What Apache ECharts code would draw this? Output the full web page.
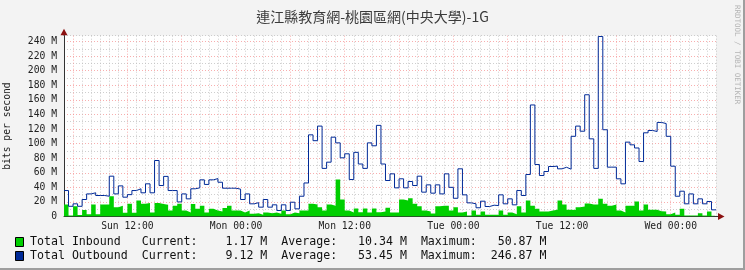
<!DOCTYPE html>
<html><head><meta charset="utf-8">
<script src="https://cdn.jsdelivr.net/npm/echarts@6/dist/echarts.min.js"></script>
<style>html,body{margin:0;padding:0;background:#f3f3f3}#c{width:745px;height:270px}</style>
</head><body><div id="c"></div>
<script>
// ---- data ----
const titleText = '連江縣教育網-桃園區網(中央大學)-1G';
const startHour = 5;      // hours from Sun 00:00
const stepHours = 0.5;    // 30-minute samples
const inbound = [
  16.5, 1.5, 14, 2, 9, 3, 16.5, 3, 16.5, 16.5,
  27.8, 12.8, 14.6, 5, 17.4, 5, 22, 17.4, 18.5, 5.5,
  18.5, 17, 16, 8.2, 14.6, 17.4, 8.2, 5.6, 17, 10.5,
  14.6, 5.6, 10.5, 8.2, 7, 11.7, 14.6, 8.2, 8.2, 5.6,
  8.2, 3.7, 4.6, 2.4, 5.6, 4.6, 5.6, 3.7, 8.2, 3,
  5.6, 4.6, 8.2, 8.2, 17.4, 16.5, 12.8, 8.2, 16.5, 14.6,
  50.87, 23.3, 8.2, 5.6, 11, 6, 11, 5.6, 11, 6,
  7, 12, 5.6, 5.6, 23.3, 22, 25, 17.4, 14, 8.2,
  7, 4, 14, 14.6, 14.6, 8.2, 12.8, 5.6, 7, 1.5,
  8.2, 2.4, 7, 2.5, 2.5, 2.5, 8.2, 2.5, 5.6, 3,
  14, 5.6, 22, 14.6, 10.5, 7, 7, 8.2, 9.1, 22,
  16.5, 9.4, 9, 12.8, 13.7, 17.8, 16.5, 16.5, 24.2, 17.4,
  14.6, 16.5, 8.2, 5.6, 14.6, 14.6, 20.6, 8.2, 16.5, 9.4,
  9.4, 7.3, 7, 3, 5.6, 2.4, 10.5, 1.5, 1.5, 1.5,
  4.6, 1.5, 7, 1.17
];
const outbound = [
  35.6, 14, 17.4, 14, 23.3, 31, 32.5, 28.8, 28.8, 27.8,
  55.3, 31, 42, 26.5, 30, 35.6, 38, 32.5, 44.8, 32.5,
  76.8, 42.5, 55, 35.6, 35.6, 20, 31, 24.2, 38, 39.3,
  50.3, 44, 50.3, 52, 47, 38.8, 38.8, 38.8, 37.5, 23.3,
  31, 17.4, 19, 12.8, 23.3, 12.8, 16, 8.2, 16, 8.2,
  19.6, 10.5, 27.8, 46, 112, 104, 124, 66, 74.5, 108.8,
  101, 80.5, 86, 50.7, 88, 72, 66, 101, 97, 125,
  72, 49.4, 58.5, 39.3, 51.7, 39.3, 48, 42.5, 55.3, 33.4,
  43.4, 32, 43.4, 31, 58.5, 40, 25, 65.4, 29.7, 18.7,
  17.4, 12, 21, 13.7, 15.5, 15, 29.7, 17.4, 24.2, 16,
  35.6, 28.8, 57.6, 153, 71.3, 56.2, 61.7, 68.6, 69, 65.4,
  67.5, 64.9, 110, 124, 117, 167, 106.5, 66, 246.87, 119,
  67.7, 67.7, 51.7, 44.8, 102, 98.3, 94, 75.4, 114.8, 118,
  116.6, 129, 127.5, 110, 69, 27.8, 34.7, 17.4, 31, 17.4,
  24.2, 17.4, 20.6, 9.12
];
const xTickHours = [12, 24, 36, 48, 60, 72];
const xTickLabels = ['Sun 12:00', 'Mon 00:00', 'Mon 12:00', 'Tue 00:00', 'Tue 12:00', 'Wed 00:00'];
const yTickValues = [0, 20, 40, 60, 80, 100, 120, 140, 160, 180, 200, 220, 240];
const yTickLabels = ['0', '20 M', '40 M', '60 M', '80 M', '100 M', '120 M', '140 M', '160 M', '180 M', '200 M', '220 M', '240 M'];
const seriesNames = ['Total Inbound', 'Total Outbound'];
const seriesColors = ['#00cf00', '#002a97'];
const statCurrent = ['1.17 M', '9.12 M'];
const statAverage = ['10.34 M', '53.45 M'];
const statMaximum = ['50.87 M', '246.87 M'];

// ---- chart ----
const X_MIN = 5, X_MAX = 77, Y_MAX = 248;
function steps(vals) {
  const d = vals.map((v, i) => [startHour + i * stepHours, v]);
  d.push([startHour + vals.length * stepHours, vals[vals.length - 1]]);
  return d;
}
const MONO = '"DejaVu Sans Mono", monospace';
const red = 'rgba(245,140,140,0.7)';
const gry = 'rgba(190,190,190,0.75)';
const xGridColors = [gry, red, gry, gry, gry, gry];
const yGridColors = [red, gry];

const chart = echarts.init(document.getElementById('c'), null, {renderer: 'canvas', width: 745, height: 270});
const option = {
  animation: false,
  backgroundColor: '#f3f3f3',
  title: {
    text: titleText, left: 'center', top: 5,
    textStyle: {fontFamily: '"Noto Sans CJK TC"', fontSize: 14, fontWeight: 'normal', color: '#3a3a3a'}
  },
  grid: {left: 64, right: 29, top: 35.7, bottom: 53.5, show: true, backgroundColor: '#ffffff', borderWidth: 0, outerBoundsMode: 'none', containLabel: false},
  xAxis: {
    type: 'value', min: X_MIN, max: X_MAX, interval: 1,
    axisLine: {show: true, onZero: false, lineStyle: {color: '#333', width: 1}},
    axisTick: {show: false},
    axisLabel: {
      show: true, interval: 0, hideOverlap: false, showMinLabel: true, showMaxLabel: true,
      formatter: v => { const i = xTickHours.indexOf(v); return i >= 0 ? xTickLabels[i] : ''; },
      fontFamily: MONO, fontSize: 9.7, color: '#222', margin: 5
    },
    splitLine: {show: true, lineStyle: {color: xGridColors, type: [1, 2], width: 1}}
  },
  yAxis: {
    type: 'value', min: 0, max: Y_MAX, interval: 10,
    name: 'bits per second', nameLocation: 'middle', nameGap: 52, nameRotate: 90,
    nameTextStyle: {fontFamily: MONO, fontSize: 9.7, color: '#222'},
    axisLine: {show: true, lineStyle: {color: '#333', width: 1}},
    axisTick: {show: false},
    axisLabel: {
      show: true, showMaxLabel: true, showMinLabel: true,
      formatter: v => { const i = yTickValues.indexOf(v); return i >= 0 ? yTickLabels[i] : ''; },
      fontFamily: MONO, fontSize: 9.7, color: '#222', margin: 7
    },
    splitLine: {show: true, lineStyle: {color: yGridColors, type: [1, 2], width: 1}}
  },
  series: [
    {name: seriesNames[0], type: 'line', step: 'end', data: steps(inbound), symbol: 'none',
     lineStyle: {width: 0}, areaStyle: {color: seriesColors[0], opacity: 1}, itemStyle: {color: seriesColors[0]}, z: 2, silent: true},
    {name: seriesNames[1], type: 'line', step: 'end', data: steps(outbound), symbol: 'none',
     lineStyle: {width: 1, color: seriesColors[1]}, itemStyle: {color: seriesColors[1]}, z: 3, silent: true}
  ]
};
chart.setOption(option);

// decorations: arrows, legend, watermark, frame
const tl = chart.convertToPixel({gridIndex: 0}, [X_MIN, Y_MAX]);
const br = chart.convertToPixel({gridIndex: 0}, [X_MAX, 0]);
const arrowColor = '#8b1010';
const pad = (s, n, left) => left ? s.padStart(n) : s.padEnd(n);
const graphics = [
  {type: 'rect', shape: {x: 743, y: 0, width: 2, height: 270}, style: {fill: '#9e9e9e'}, silent: true},
  {type: 'rect', shape: {x: 0, y: 268, width: 745, height: 2}, style: {fill: '#9e9e9e'}, silent: true},
  {type: 'line', shape: {x1: tl[0], y1: tl[1], x2: tl[0], y2: tl[1] - 1}, style: {stroke: '#333', lineWidth: 1}, silent: true},
  {type: 'line', shape: {x1: br[0], y1: br[1], x2: br[0] + 3, y2: br[1]}, style: {stroke: '#333', lineWidth: 1}, silent: true},
  {type: 'polygon', shape: {points: [[tl[0] - 3.5, tl[1] - 0.5], [tl[0] + 3.5, tl[1] - 0.5], [tl[0], tl[1] - 7]]}, style: {fill: arrowColor}, silent: true},
  {type: 'polygon', shape: {points: [[br[0] + 2, br[1] - 3.5], [br[0] + 2, br[1] + 3.5], [br[0] + 8.5, br[1]]]}, style: {fill: arrowColor}, silent: true},
  {type: 'text', x: 737, y: 5, rotation: -Math.PI / 2,
   style: {text: 'RRDTOOL / TOBI OETIKER', fontFamily: MONO, fontSize: 7.5, fill: '#b4b4b4', align: 'left', verticalAlign: 'middle'}, silent: true}
];
for (let r = 0; r < 2; r++) {
  const y = 242 + 14 * r;
  const line = pad(seriesNames[r], 16) + 'Current:' + pad(statCurrent[r], 10, true) +
               '  Average:' + pad(statAverage[r], 10, true) + '  Maximum:' + pad(statMaximum[r], 10, true);
  graphics.push({type: 'rect', shape: {x: 15.5, y: y - 4.5, width: 8, height: 9}, style: {fill: seriesColors[r], stroke: '#000', lineWidth: 1}, silent: true});
  graphics.push({type: 'text', x: 30, y: y, style: {text: line, fontFamily: MONO, fontSize: 11.6, fill: '#111', align: 'left', verticalAlign: 'middle'}, silent: true});
}
chart.setOption({graphic: graphics});
</script>
</body></html>
